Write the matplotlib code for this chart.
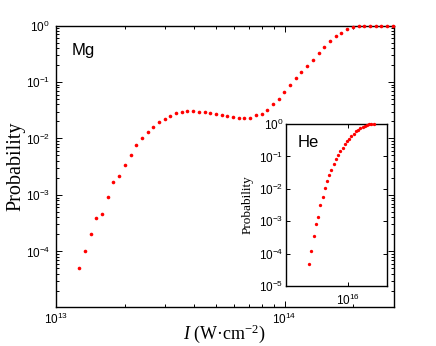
import numpy as np
import matplotlib
matplotlib.use("Agg")
import matplotlib.pyplot as plt
from matplotlib.ticker import FuncFormatter, LogLocator, NullLocator, FixedLocator

# ---------------- data ----------------
# Mg: intensity in units of 1e13 W/cm^2
mg_intensity = [1.260, 1.335, 1.413, 1.497, 1.586, 1.680, 1.779, 1.884, 1.996, 2.114,
                2.239, 2.371, 2.512, 2.660, 2.818, 2.985, 3.161, 3.348, 3.546, 3.755,
                3.978, 4.213, 4.462, 4.726, 5.006, 5.302, 5.616, 5.948, 6.300, 6.673,
                7.068, 7.485, 7.929, 8.398, 8.895, 9.423, 9.98, 10.57, 11.20, 11.86,
                12.56, 13.30, 14.09, 14.93, 15.81, 16.75, 17.74, 18.79, 19.90, 21.08,
                22.33, 23.65, 25.05, 26.53, 28.10, 29.76]
mg_prob = [5.0e-5, 1.0e-4, 2.0e-4, 3.85e-4, 4.64e-4, 9.06e-4, 1.69e-3, 2.16e-3, 3.35e-3, 5.10e-3,
           7.67e-3, 1.01e-2, 1.29e-2, 1.62e-2, 1.99e-2, 2.24e-2, 2.54e-2, 2.83e-2, 2.95e-2, 3.08e-2,
           3.08e-2, 2.99e-2, 2.92e-2, 2.87e-2, 2.69e-2, 2.58e-2, 2.50e-2, 2.37e-2, 2.34e-2, 2.34e-2,
           2.34e-2, 2.58e-2, 2.75e-2, 3.24e-2, 4.04e-2, 5.08e-2, 6.67e-2, 8.77e-2, 0.117, 0.151,
           0.188, 0.246, 0.328, 0.419, 0.528, 0.649, 0.751, 0.863, 0.937, 0.99,
           1.0, 1.0, 1.0, 1.0, 1.0, 1.0]

# He: intensity in units of 1e15 W/cm^2
he_intensity = [5.649, 5.838, 6.034, 6.236, 6.445, 6.663, 6.886, 7.116, 7.354, 7.601,
                7.856, 8.119, 8.391, 8.670, 8.961, 9.262, 9.572, 9.892, 10.22, 10.57,
                10.92, 11.28, 11.66, 12.05, 12.46, 12.88, 13.31, 13.75, 14.21, 14.69]
he_prob = [4.78e-5, 1.23e-4, 3.49e-4, 8.20e-4, 1.38e-3, 3.16e-3, 5.47e-3, 1.04e-2, 1.70e-2, 2.61e-2,
           3.94e-2, 5.74e-2, 8.13e-2, 0.110, 0.144, 0.186, 0.236, 0.292, 0.352, 0.426,
           0.502, 0.596, 0.667, 0.753, 0.826, 0.887, 0.952, 0.98, 1.0, 1.0]

main_label = "Mg"
inset_label = "He"

# ---------------- style ----------------
plt.rcParams.update({
    'font.family': 'Liberation Sans',
    'mathtext.fontset': 'custom',
    'mathtext.rm': 'Liberation Serif',
    'mathtext.it': 'Liberation Serif:italic',
    'mathtext.sf': 'Liberation Sans',
})

def dec_fmt(v, pos):
    e = int(round(np.log10(v)))
    return r'$\mathsf{10^{%d}}$' % e

W, H = 436, 346
fig = plt.figure(figsize=(W / 100, H / 100), dpi=100)

# main axes
L, R, T, B = 56.3, 393.5, 25.5, 306.7
ax = fig.add_axes([L / W, (H - B) / H, (R - L) / W, (B - T) / H])
ax.set_xscale('log')
ax.set_yscale('log')
ax.plot(np.array(mg_intensity) * 1e13, mg_prob, 'o', color='#ff0000', ms=2.6, mew=0, clip_on=False, zorder=3)
ax.set_xlim(1e13, 3e14)
ax.set_ylim(1.05e-5, 1)
ax.xaxis.set_major_formatter(FuncFormatter(dec_fmt))
ax.yaxis.set_major_formatter(FuncFormatter(dec_fmt))
ax.yaxis.set_major_locator(FixedLocator([1e-4, 1e-3, 1e-2, 1e-1, 1e0]))
ax.tick_params(which='both', direction='in', top=True, right=True, labelsize=8.5, width=0.7)
ax.tick_params(which='major', length=4)
ax.tick_params(which='minor', length=2)
ax.tick_params(axis='y', pad=4.5)
ax.tick_params(axis='x', pad=4)
for s in ax.spines.values():
    s.set_linewidth(1.0)

ax.set_ylabel('Probability', family='Liberation Serif', fontsize=14.5)
ax.yaxis.set_label_coords(-0.093, 0.5)
ax.set_xlabel(r'$I$ (W·cm$^{-2}$)', family='Liberation Serif', fontsize=13)
ax.xaxis.set_label_coords(0.5, -0.055)
ax.xaxis.label.set_va('top')

ax.text((72 - L) / (R - L), (B - 55) / (B - T), main_label, transform=ax.transAxes,
        fontsize=12, family='Liberation Sans', ha='left', va='baseline')

# inset axes
iL, iR, iT, iB = 286, 387.3, 124, 286
ax2 = fig.add_axes([iL / W, (H - iB) / H, (iR - iL) / W, (iB - iT) / H])
ax2.set_facecolor('white')
ax2.set_xscale('log')
ax2.set_yscale('log')
ax2.plot(np.array(he_intensity) * 1e15, he_prob, 'o', color='#ff0000', ms=2.4, mew=0, clip_on=False, zorder=3)
ax2.set_xlim(4e15, 1.8e16)
ax2.set_ylim(1e-5, 1)
ax2.xaxis.set_major_locator(FixedLocator([1e16]))
ax2.xaxis.set_minor_locator(NullLocator())
ax2.yaxis.set_major_locator(FixedLocator([1e-5, 1e-4, 1e-3, 1e-2, 1e-1, 1e0]))
ax2.yaxis.set_minor_locator(NullLocator())
ax2.xaxis.set_major_formatter(FuncFormatter(dec_fmt))
ax2.yaxis.set_major_formatter(FuncFormatter(dec_fmt))
ax2.tick_params(which='both', direction='in', top=True, right=True, labelsize=8.5, width=0.7, length=3)
ax2.tick_params(axis='y', pad=1.8)
ax2.tick_params(axis='x', pad=5)
for s in ax2.spines.values():
    s.set_linewidth(1.0)
ax2.set_ylabel('Probability', family='Liberation Serif', fontsize=9.5)
ax2.yaxis.set_label_coords(-0.32, 0.5)
ax2.text((297.3 - iL) / (iR - iL), (iB - 147.3) / (iB - iT), inset_label, transform=ax2.transAxes,
         fontsize=12, family='Liberation Sans', ha='left', va='baseline')

fig.savefig('out.png', dpi=100)
